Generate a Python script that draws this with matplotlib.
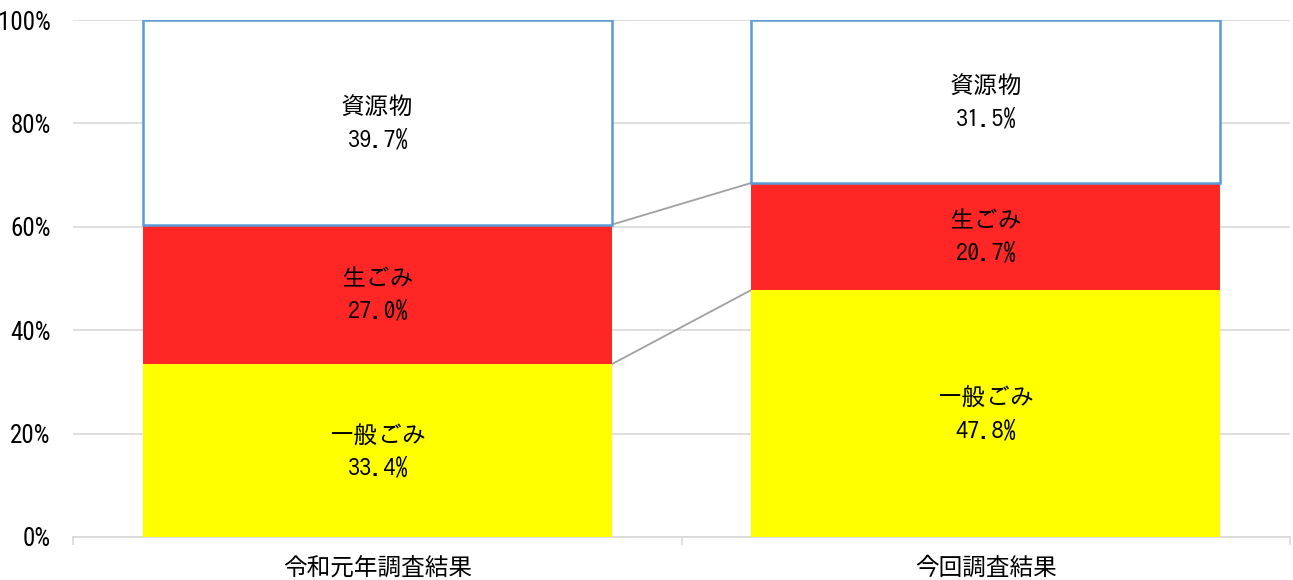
import matplotlib
matplotlib.use("Agg")
import matplotlib.pyplot as plt
import numpy as np

categories = ["令和元年調査結果", "今回調査結果"]
series_names = ["一般ごみ", "生ごみ", "資源物"]
general = [33.4, 47.8]
food = [27.0, 20.7]
resources = [39.7, 31.5]
yticks = [0, 20, 40, 60, 80, 100]
ytick_labels = ["0%", "20%", "40%", "60%", "80%", "100%"]

colors = ["#FFFF00", "#FF2626", "#FFFFFF"]
edgecolors = ["none", "none", "#5B9BD5"]

plt.rcParams['font.family'] = ['Noto Sans CJK JP', 'DejaVu Sans']
label_font = ['IPAGothic', 'Noto Sans CJK JP', 'DejaVu Sans']
tick_font = ['Roboto Condensed', 'DejaVu Sans']

fig = plt.figure(figsize=(12.93, 5.80), dpi=100)
ax = fig.add_axes([73/1293, 43/580, (1290-73)/1293, (560-43)/580])

x = np.arange(len(categories))
width = 0.77
data = [general, food, resources]
bottom = np.zeros(len(categories))
tops = []
for i, vals in enumerate(data):
    vals = np.array(vals, dtype=float)
    h = np.minimum(vals, 100 - bottom)
    lw = 1.8 if edgecolors[i] != "none" else 0
    ax.bar(x, h, width, bottom=bottom, color=colors[i],
           edgecolor=edgecolors[i], linewidth=lw, zorder=3)
    for xi, b, v, hh in zip(x, bottom, vals, h):
        ax.text(xi, b + hh / 2, f"{series_names[i]}\n{v:.1f}%",
                ha="center", va="center", fontsize=17.5, linespacing=1.55,
                family=label_font, color="#000000", zorder=5)
    bottom = bottom + h
    tops.append(bottom.copy())

# series lines
for t in tops[:-1]:
    ax.plot([x[0] + width / 2, x[1] - width / 2], [t[0], t[1]],
            color="#A0A0A0", linewidth=1.3, zorder=2)

ax.set_xlim(-0.5, 1.5)
ax.set_ylim(0, 100)
ax.set_yticks(yticks)
ax.set_yticklabels(ytick_labels, family=tick_font, fontsize=18)
ax.yaxis.grid(True, color="#D9D9D9", linewidth=1.2, zorder=0)
ax.set_axisbelow(True)
ax.tick_params(axis="y", length=0, pad=16)

ax.set_xticks(x)
ax.set_xticklabels(categories, fontsize=17)
ax.set_xticks([-0.5, 0.5, 1.5], minor=True)
ax.tick_params(axis="x", which="major", length=0, pad=14)
ax.tick_params(axis="x", which="minor", length=6, color="#D9D9D9", width=1.2, direction="out")

for s in ["top", "right", "left"]:
    ax.spines[s].set_visible(False)
ax.spines["bottom"].set_color("#D9D9D9")
ax.spines["bottom"].set_linewidth(1.2)

fig.savefig("out.png", dpi=100)
